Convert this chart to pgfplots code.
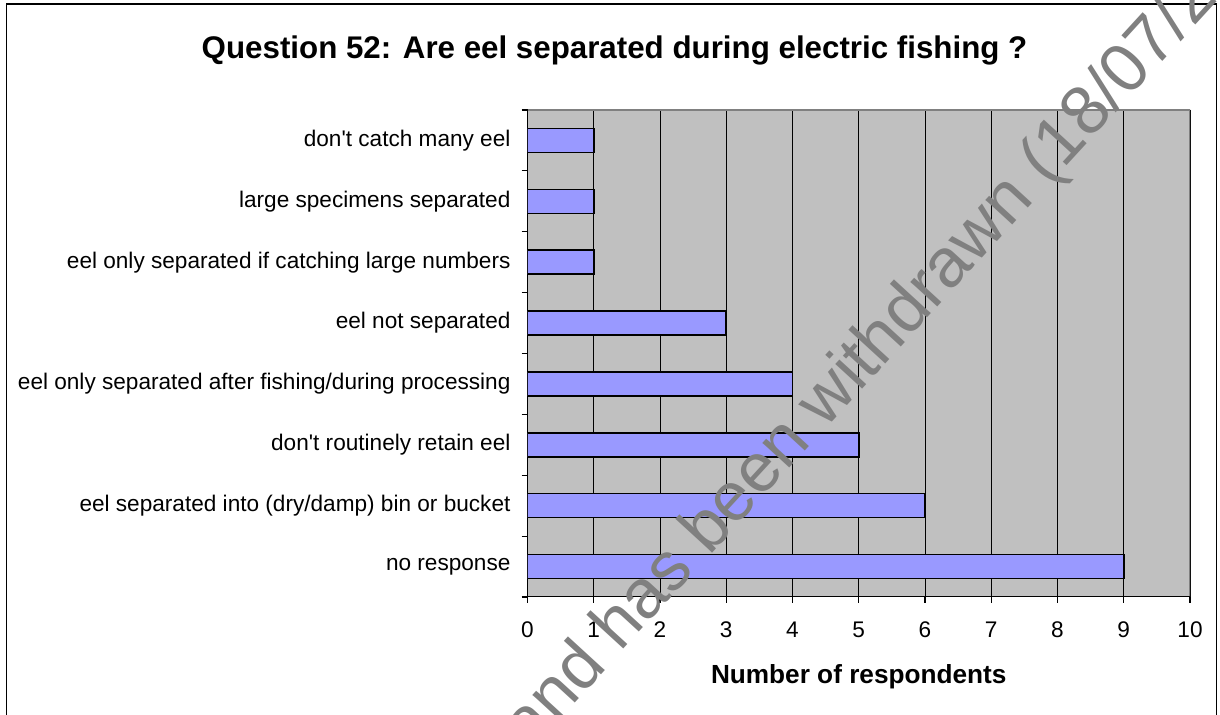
\documentclass[border=0pt]{standalone}
\usepackage{fontspec}
\setmainfont{Liberation Sans}[Ligatures=TeXOff]
\usepackage{pgfplots}
\pgfplotsset{compat=1.18}
\definecolor{barblue}{HTML}{9999FF}
\definecolor{plotbg}{HTML}{C0C0C0}
\definecolor{wm}{HTML}{808080}
\begin{document}
\begin{tikzpicture}
\path[use as bounding box] (0pt,0pt) rectangle (610pt,357.5pt);
\begin{scope}
\clip (0pt,0pt) rectangle (610pt,357.5pt);
\draw[line width=0.8pt] (3.25pt,-10pt) -- (3.25pt,355.5pt) -- (608.25pt,355.5pt) -- (608.25pt,-10pt);
\begin{axis}[
  at={(263.75pt,59pt)}, anchor=south west,
  scale only axis, width=331.25pt, height=243.5pt,
  xmin=0, xmax=10, ymin=-0.5, ymax=7.5,
  axis background/.style={fill=plotbg},
  axis line style={draw=none},
  xtick={0,1,2,3,4,5,6,7,8,9,10},
  ytick={-0.5,0.5,1.5,2.5,3.5,4.5,5.5,6.5,7.5},
  yticklabels={},
  extra y ticks={0,1,2,3,4,5,6,7},
  extra y tick labels={no response,
    eel separated into (dry/damp) bin or bucket,
    don't routinely retain eel,
    eel only separated after fishing/during processing,
    eel not separated,
    eel only separated if catching large numbers,
    large specimens separated,
    don't catch many eel},
  extra y tick style={major tick length=0pt, tick style={draw=none},
    yticklabel style={anchor=east, xshift=-5pt}},
  xtick pos=bottom, ytick pos=left,
  tick align=outside,
  major tick length=3pt,
  tick style={black, line width=0.6pt},
  xmajorgrids, major grid style={black, line width=0.5pt},
  /pgf/number format/assume math mode=true,
  tick label style={font=\fontsize{11.3}{13.5}\selectfont},
  xticklabel style={anchor=north, yshift=-6pt},
  xlabel={Number of respondents},
  xlabel style={font=\bfseries\fontsize{13.1}{15}\selectfont, at={(axis description cs:0.5,0)}, anchor=base, yshift=-43.5pt},
  title={Question 52: Are eel separated during electric fishing ?},
  title style={font=\bfseries\fontsize{15.65}{18}\selectfont, at={(axis description cs:0.5,1)}, anchor=base, xshift=-122.1pt, yshift=19.5pt},
  xbar, bar width=12pt,
]
\addplot[xbar, fill=barblue, draw=black, line width=0.8pt] coordinates {
  (9,0) (6,1) (5,2) (4,3) (3,4) (1,5) (1,6) (1,7)
};
\draw[wm, line width=0.75pt] (rel axis cs:0,1) -- (rel axis cs:1,1) -- (rel axis cs:1,0);
\draw[black, line width=0.8pt] (rel axis cs:0,1) -- (rel axis cs:0,0) -- (rel axis cs:1,0);
\end{axis}
\begin{pgfinterruptboundingbox}
\node[rotate=47.5, anchor=base west, inner sep=0pt, text=wm, font=\fontsize{34.5}{40}\selectfont] at (265pt,-18.44pt) {and has been withdrawn (18/07/2012)};
\end{pgfinterruptboundingbox}
\end{scope}
\end{tikzpicture}
\end{document}
